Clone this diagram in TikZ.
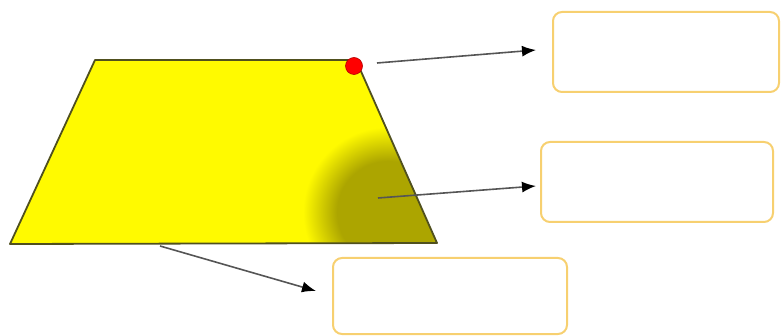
\documentclass[tikz,border=0pt]{standalone}
\usetikzlibrary{arrows.meta}
\definecolor{boxorange}{RGB}{247,208,112}
\definecolor{trapyellow}{RGB}{255,250,0}
\definecolor{shadowolive}{RGB}{172,165,0}
\definecolor{edgecol}{RGB}{80,80,30}
\definecolor{arrowgray}{RGB}{85,85,85}
\pgfdeclareradialshading{blob}{\pgfpoint{0bp}{0bp}}{%
  color(0bp)=(shadowolive); color(15bp)=(shadowolive); color(25bp)=(trapyellow); color(50bp)=(trapyellow)}
\tikzset{
  emptybox/.style={draw=boxorange, line width=2pt, rounded corners=9pt, fill=white, inner sep=0pt},
  pointer/.style={draw=arrowgray, line width=1.6pt, -{Latex[length=14pt,width=11pt,black]}},
}
\begin{document}
\begin{tikzpicture}[x=1pt,y=-1pt]
\useasboundingbox (0,0) rectangle (781,336);
% trapezoid
\coordinate (tl) at (95,60);
\coordinate (tr) at (356,60);
\coordinate (br) at (437,243);
\coordinate (bl) at (10,244);
\fill[trapyellow] (tl) -- (tr) -- (br) -- (bl) -- cycle;
\begin{scope}
  \clip (tl) -- (tr) -- (br) -- (bl) -- cycle;
  \shade[shading=blob] (388,212) circle (85);
\end{scope}
\draw[edgecol, line width=1.8pt, line join=round] (tl) -- (tr) -- (br) -- (bl) -- cycle;
% red dot
\node[circle, fill=red, draw=red!70!black, line width=0.6pt, minimum size=17pt, inner sep=0pt] (dot) at (354,66) {};
% boxes
\node[emptybox, minimum width=226pt, minimum height=80pt] (box1) at (666,52) {};
\node[emptybox, minimum width=232pt, minimum height=80pt] (box2) at (657,182) {};
\node[emptybox, minimum width=234pt, minimum height=76pt] (box3) at (450,296) {};
% connectors
\coordinate (s1) at (377,63);
\coordinate (e1) at (536,50);
\coordinate (s2) at (378,198);
\coordinate (e2) at (536,186);
\coordinate (s3) at (160,246);
\coordinate (e3) at (316,291);
\draw[pointer] (s1) -- (e1);
\draw[pointer] (s2) -- (e2);
\draw[pointer] (s3) -- (e3);
\end{tikzpicture}
\end{document}
